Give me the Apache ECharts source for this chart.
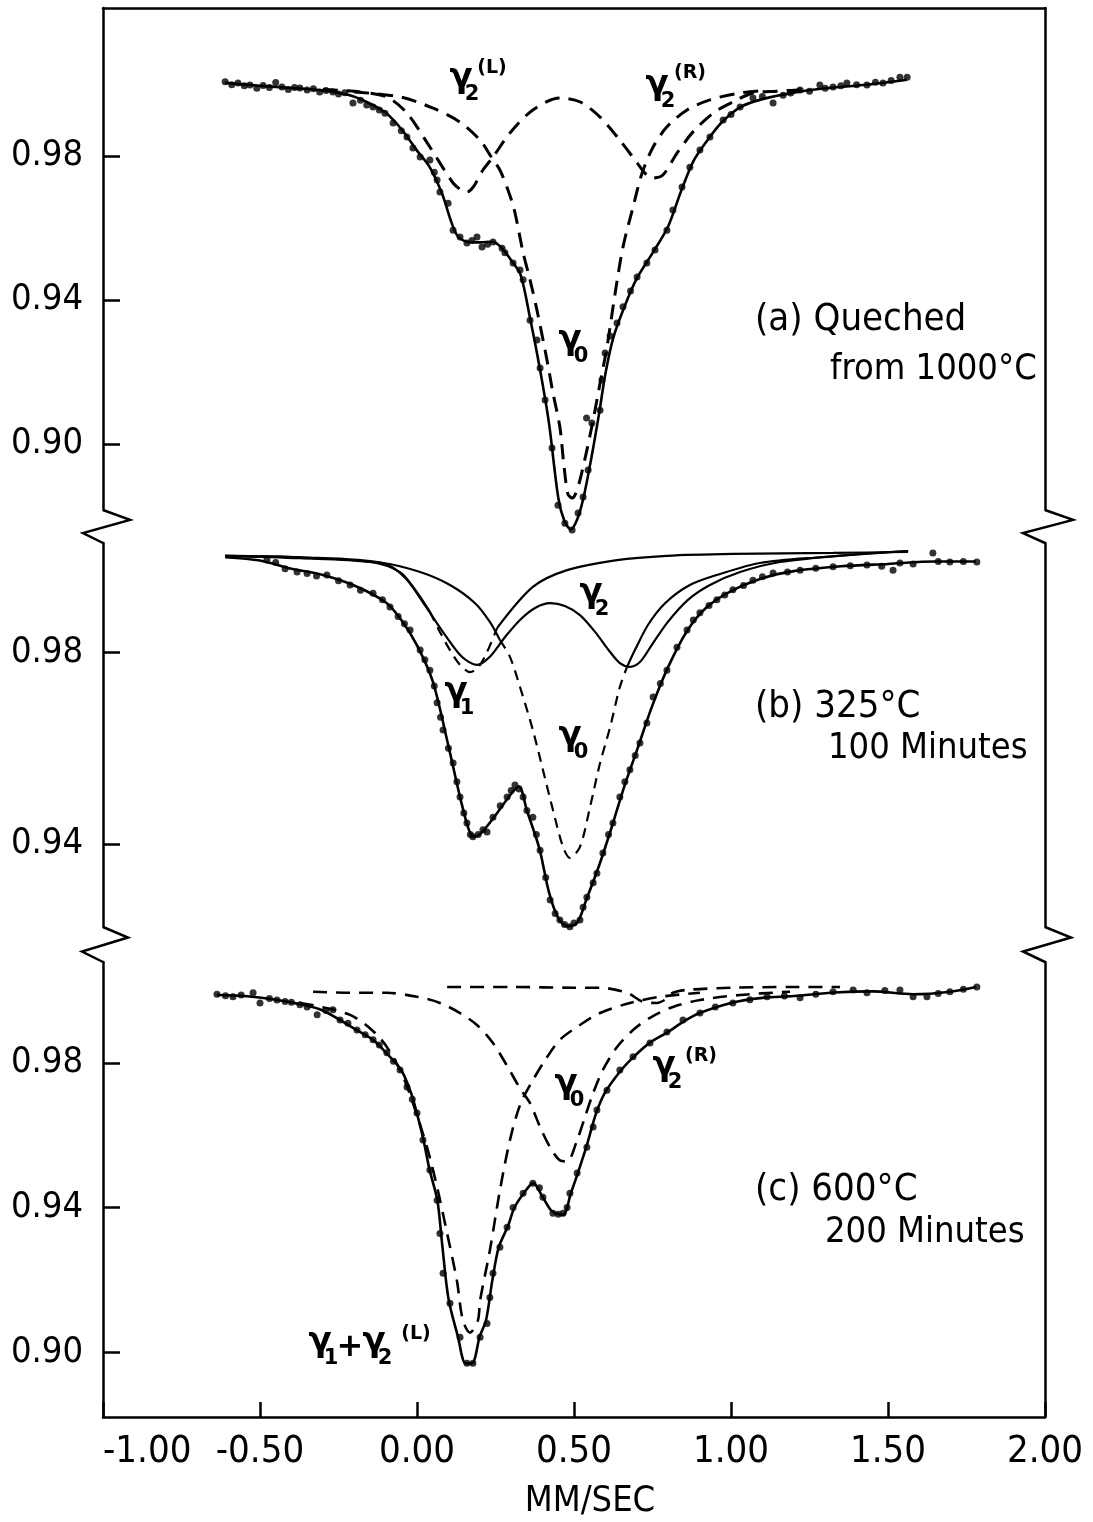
<!DOCTYPE html>
<html><head><meta charset="utf-8">
<script src="https://cdn.jsdelivr.net/npm/echarts@6/dist/echarts.min.js"></script>
<style>html,body{margin:0;padding:0;background:#fff}#c{width:1093px;height:1522px}</style>
</head><body><div id="c"></div>
<script>
// ---------- tick values ----------
const xTicks = [-1.0, -0.5, 0, 0.5, 1.0, 1.5, 2.0];
const yTicksA = [0.90, 0.94, 0.98];
const yTicksB = [0.94, 0.98];
const yTicksC = [0.90, 0.94, 0.98];

// ---------- panel (a) quenched from 1000 C ----------
const aDots = [[-0.611,1.0006],[-0.59,0.9998],[-0.57,1.0003],[-0.55,0.9995],[-0.532,0.9997],[-0.51,0.9988],[-0.49,0.9996],[-0.47,0.9990],[-0.45,1.0004],[-0.43,0.9992],[-0.41,0.9985],[-0.39,0.9990],[-0.373,0.9989],[-0.35,0.9983],[-0.33,0.9987],[-0.31,0.9978],[-0.29,0.9982],[-0.268,0.9978],[-0.25,0.9972],[-0.23,0.9976],[-0.204,0.9947],[-0.18,0.9955],[-0.16,0.9942],[-0.14,0.9936],[-0.12,0.9928],[-0.102,0.9919],[-0.076,0.9892],[-0.05,0.9870],[-0.032,0.9853],[-0.013,0.9822],[0.010,0.9797],[0.041,0.9789],[0.055,0.9755],[0.064,0.9733],[0.073,0.9700],[0.099,0.9669],[0.115,0.9594],[0.137,0.9575],[0.159,0.9558],[0.175,0.9565],[0.191,0.9575],[0.207,0.9547],[0.225,0.9555],[0.242,0.9561],[0.271,0.9544],[0.280,0.9531],[0.306,0.9503],[0.328,0.9483],[0.338,0.9456],[0.360,0.9344],[0.382,0.9289],[0.392,0.9211],[0.408,0.9122],[0.430,0.8989],[0.449,0.8830],[0.471,0.8780],[0.494,0.8761],[0.513,0.8808],[0.529,0.8853],[0.540,0.9072],[0.545,0.8928],[0.557,0.9058],[0.583,0.9094],[0.589,0.9178],[0.599,0.9253],[0.615,0.9300],[0.637,0.9336],[0.656,0.9381],[0.680,0.9425],[0.701,0.9464],[0.732,0.9503],[0.758,0.9539],[0.796,0.9594],[0.815,0.9650],[0.844,0.9714],[0.869,0.9769],[0.901,0.9817],[0.933,0.9853],[0.975,0.9900],[1.0,0.9915],[1.029,0.9936],[1.070,0.9961],[1.10,0.9965],[1.134,0.9947],[1.166,0.9969],[1.19,0.9975],[1.220,0.9983],[1.25,0.9980],[1.283,0.9997],[1.30,0.9988],[1.325,0.9992],[1.35,0.9995],[1.369,1.0003],[1.40,0.9998],[1.433,0.9997],[1.46,1.0005],[1.484,1.0003],[1.51,1.0010],[1.538,1.0019],[1.561,1.0019]];
const aFit = [[-0.611,1.0003],[-0.5,0.9995],[-0.4,0.9989],[-0.3,0.9982],[-0.22,0.9970],[-0.16,0.9950],[-0.1,0.9920],[-0.05,0.9875],[0.0,0.9815],[0.04,0.9770],[0.08,0.9695],[0.11,0.9615],[0.13,0.9577],[0.16,0.9562],[0.20,0.9560],[0.24,0.9562],[0.27,0.9545],[0.30,0.9510],[0.33,0.9470],[0.36,0.9350],[0.39,0.9215],[0.42,0.9060],[0.45,0.8850],[0.47,0.8785],[0.49,0.8763],[0.51,0.8790],[0.53,0.8850],[0.555,0.8960],[0.58,0.9085],[0.60,0.9195],[0.625,0.9295],[0.66,0.9380],[0.70,0.9460],[0.75,0.9530],[0.80,0.9605],[0.84,0.9700],[0.88,0.9785],[0.92,0.9838],[0.97,0.9893],[1.03,0.9936],[1.1,0.9958],[1.2,0.9976],[1.3,0.9988],[1.43,0.9998],[1.56,1.0012]];
const aGamma0 = [[-0.20,0.9978],[-0.054,0.9964],[0.051,0.9933],[0.137,0.9894],[0.201,0.9844],[0.239,0.9794],[0.264,0.9761],[0.290,0.9705],[0.310,0.9650],[0.338,0.9531],[0.360,0.9456],[0.382,0.9372],[0.414,0.9233],[0.433,0.9142],[0.455,0.9047],[0.468,0.8940],[0.481,0.8860],[0.495,0.8850],[0.505,0.8862],[0.519,0.8900],[0.541,0.8983],[0.561,0.9067],[0.583,0.9169],[0.605,0.9269],[0.631,0.9419],[0.656,0.9547],[0.688,0.9658],[0.717,0.9753],[0.752,0.9825],[0.796,0.9881],[0.860,0.9928],[0.933,0.9956],[1.029,0.9975],[1.115,0.9983]];
const aGamma2 = [[-0.30,0.9985],[-0.182,0.9978],[-0.096,0.9964],[-0.032,0.9919],[0.041,0.9825],[0.115,0.9725],[0.145,0.9703],[0.159,0.9700],[0.180,0.9715],[0.210,0.9761],[0.242,0.9797],[0.296,0.9864],[0.369,0.9928],[0.455,0.9961],[0.520,0.9950],[0.583,0.9908],[0.646,0.9844],[0.701,0.9781],[0.732,0.9747],[0.752,0.9739],[0.783,0.9747],[0.828,0.9808],[0.879,0.9867],[0.943,0.9919],[1.006,0.9950],[1.070,0.9975],[1.146,0.9980],[1.25,0.9985]];

// ---------- panel (b) 325 C, 100 minutes ----------
const bDots = [[-0.478,0.9993],[-0.45,0.9988],[-0.42,0.9975],[-0.382,0.9968],[-0.35,0.9965],[-0.32,0.9960],[-0.287,0.9962],[-0.25,0.9950],[-0.213,0.9941],[-0.18,0.9930],[-0.14,0.9924],[-0.11,0.9910],[-0.086,0.9895],[-0.06,0.9875],[-0.04,0.9860],[-0.022,0.9847],[0.010,0.9805],[0.025,0.9785],[0.041,0.9763],[0.055,0.9730],[0.064,0.9695],[0.075,0.9665],[0.083,0.9638],[0.10,0.9600],[0.115,0.9569],[0.127,0.9530],[0.137,0.9498],[0.149,0.9465],[0.159,0.9444],[0.170,0.9420],[0.178,0.9415],[0.195,0.9420],[0.210,0.9430],[0.223,0.9425],[0.242,0.9456],[0.265,0.9480],[0.287,0.9498],[0.300,0.9512],[0.312,0.9523],[0.325,0.9515],[0.338,0.9498],[0.350,0.9470],[0.369,0.9456],[0.380,0.9420],[0.392,0.9387],[0.41,0.9330],[0.424,0.9283],[0.44,0.9255],[0.455,0.9241],[0.470,0.9232],[0.487,0.9227],[0.500,0.9235],[0.519,0.9241],[0.529,0.9268],[0.541,0.9289],[0.561,0.9319],[0.573,0.9339],[0.592,0.9381],[0.610,0.9420],[0.624,0.9444],[0.646,0.9498],[0.662,0.9530],[0.678,0.9555],[0.695,0.9585],[0.710,0.9611],[0.732,0.9653],[0.752,0.9707],[0.775,0.9735],[0.796,0.9763],[0.828,0.9811],[0.860,0.9847],[0.880,0.9868],[0.901,0.9883],[0.93,0.9898],[0.955,0.9910],[0.98,0.9920],[1.006,0.9931],[1.04,0.9940],[1.070,0.9951],[1.10,0.9958],[1.134,0.9966],[1.18,0.9968],[1.220,0.9972],[1.27,0.9976],[1.325,0.9979],[1.38,0.9981],[1.433,0.9983],[1.48,0.9980],[1.516,0.9972],[1.538,0.9987],[1.58,0.9985],[1.643,1.0008],[1.66,0.9990],[1.697,0.9989],[1.74,0.9990],[1.783,0.9989]];
const bFit = [[-0.611,0.9999],[-0.5,0.9992],[-0.4,0.9975],[-0.3,0.9962],[-0.2,0.9940],[-0.1,0.9905],[-0.05,0.9868],[0.0,0.9815],[0.05,0.9740],[0.1,0.9605],[0.14,0.9490],[0.165,0.9430],[0.18,0.9415],[0.2,0.9420],[0.25,0.9460],[0.3,0.9505],[0.325,0.9520],[0.35,0.9470],[0.39,0.9390],[0.42,0.9300],[0.45,0.9245],[0.48,0.9228],[0.51,0.9235],[0.54,0.9285],[0.58,0.9355],[0.62,0.9435],[0.66,0.9520],[0.70,0.9595],[0.75,0.9690],[0.80,0.9770],[0.86,0.9845],[0.92,0.9893],[1.0,0.9928],[1.1,0.9955],[1.2,0.9970],[1.35,0.9980],[1.5,0.9985],[1.65,0.9990],[1.78,0.9990]];
const bGamma0Left = [[-0.611,1.0002],[-0.373,0.9999],[-0.108,0.9987],[0.010,0.9968],[0.105,0.9941],[0.185,0.9903],[0.232,0.9864],[0.264,0.9826]];
const bGamma0Dip = [[0.264,0.9826],[0.296,0.9791],[0.328,0.9728],[0.369,0.9638],[0.401,0.9555],[0.433,0.9471],[0.465,0.9394],[0.487,0.9371],[0.519,0.9394],[0.551,0.9477],[0.583,0.9569],[0.615,0.9644],[0.646,0.9728],[0.669,0.9770]];
const bGamma0Right = [[0.669,0.9770],[0.694,0.9805],[0.736,0.9858],[0.790,0.9903],[0.869,0.9941],[0.965,0.9964],[1.092,0.9987],[1.283,0.9999],[1.564,1.0012]];
const bGamma1Left = [[-0.611,1.0002],[-0.373,0.9997],[-0.150,0.9989],[-0.054,0.9968],[-0.006,0.9931],[0.041,0.9885]];
const bGamma1Dip = [[0.041,0.9885],[0.073,0.9843],[0.105,0.9805],[0.137,0.9774],[0.169,0.9759],[0.194,0.9768],[0.223,0.9801],[0.255,0.9851]];
const bGamma1Right = [[0.255,0.9851],[0.369,0.9937],[0.478,0.9972],[0.637,0.9993],[0.796,1.0002],[1.006,1.0006],[1.325,1.0008],[1.564,1.0010]];
const bGamma2 = [[-0.611,1.0002],[-0.373,0.9999],[-0.108,0.9987],[-0.038,0.9956],[0.025,0.9899],[0.089,0.9837],[0.143,0.9791],[0.191,0.9774],[0.232,0.9791],[0.280,0.9832],[0.328,0.9868],[0.376,0.9893],[0.424,0.9903],[0.471,0.9897],[0.519,0.9878],[0.567,0.9843],[0.615,0.9801],[0.646,0.9778],[0.678,0.9770],[0.710,0.9780],[0.748,0.9816],[0.799,0.9864],[0.863,0.9910],[0.933,0.9941],[1.029,0.9968],[1.156,0.9989],[1.379,1.0004],[1.564,1.0012]];

// ---------- panel (c) 600 C, 200 minutes ----------
const cDots = [[-0.637,0.9990],[-0.61,0.9986],[-0.586,0.9983],[-0.56,0.9988],[-0.522,0.9994],[-0.50,0.9966],[-0.47,0.9978],[-0.446,0.9974],[-0.42,0.9970],[-0.40,0.9968],[-0.373,0.9961],[-0.35,0.9955],[-0.318,0.9933],[-0.29,0.9945],[-0.268,0.9947],[-0.245,0.9919],[-0.22,0.9910],[-0.191,0.9891],[-0.165,0.9878],[-0.140,0.9864],[-0.12,0.9850],[-0.096,0.9828],[-0.075,0.9805],[-0.054,0.9781],[-0.032,0.9734],[-0.015,0.9700],[0.000,0.9662],[0.019,0.9587],[0.041,0.9504],[0.064,0.9421],[0.073,0.9329],[0.083,0.9219],[0.105,0.9136],[0.137,0.9042],[0.159,0.8970],[0.178,0.8970],[0.201,0.9042],[0.223,0.9080],[0.232,0.9152],[0.242,0.9219],[0.264,0.9291],[0.287,0.9346],[0.306,0.9401],[0.338,0.9440],[0.369,0.9468],[0.39,0.9455],[0.401,0.9429],[0.433,0.9385],[0.45,0.9382],[0.465,0.9385],[0.478,0.9401],[0.487,0.9440],[0.510,0.9496],[0.541,0.9567],[0.561,0.9623],[0.573,0.9670],[0.605,0.9725],[0.646,0.9781],[0.688,0.9817],[0.742,0.9855],[0.796,0.9886],[0.847,0.9919],[0.901,0.9938],[0.95,0.9955],[1.006,0.9966],[1.06,0.9975],[1.115,0.9983],[1.17,0.9985],[1.220,0.9980],[1.27,0.9990],[1.325,0.9997],[1.389,1.0002],[1.433,0.9994],[1.49,1.0000],[1.538,1.0002],[1.580,0.9983],[1.624,0.9983],[1.66,0.9992],[1.697,0.9997],[1.74,1.0004],[1.783,1.0010]];
const cFit = [[-0.637,0.9988],[-0.55,0.9985],[-0.45,0.9975],[-0.37,0.9962],[-0.3,0.9945],[-0.2,0.9895],[-0.14,0.9864],[-0.1,0.9830],[-0.05,0.9780],[-0.02,0.9720],[0.0,0.9660],[0.02,0.9590],[0.04,0.9505],[0.065,0.9420],[0.08,0.9300],[0.10,0.9150],[0.13,0.9045],[0.155,0.8970],[0.175,0.8970],[0.20,0.9045],[0.22,0.9090],[0.24,0.9200],[0.26,0.9290],[0.29,0.9350],[0.31,0.9400],[0.34,0.9440],[0.37,0.9468],[0.40,0.9430],[0.43,0.9390],[0.465,0.9380],[0.49,0.9440],[0.51,0.9490],[0.54,0.9570],[0.57,0.9660],[0.6,0.9720],[0.65,0.9780],[0.69,0.9817],[0.74,0.9855],[0.80,0.9886],[0.85,0.9915],[0.9,0.9938],[1.0,0.9966],[1.1,0.9980],[1.2,0.9985],[1.33,0.9995],[1.45,0.9998],[1.58,0.9990],[1.7,0.9997],[1.78,1.0010]];
const cGamma0 = [[-0.331,0.9997],[-0.213,0.9994],[-0.096,0.9994],[0.0,0.9983],[0.073,0.9966],[0.137,0.9938],[0.191,0.9905],[0.242,0.9855],[0.287,0.9792],[0.328,0.9730],[0.360,0.9689],[0.392,0.9623],[0.424,0.9567],[0.455,0.9531],[0.478,0.9528],[0.510,0.9587],[0.535,0.9651],[0.561,0.9717],[0.592,0.9781],[0.637,0.9844],[0.688,0.9891],[0.742,0.9925],[0.815,0.9955],[0.901,0.9974],[1.029,0.9988],[1.188,0.9997]];
const cGamma1Gamma2L = [[-0.373,0.9966],[-0.213,0.9933],[-0.118,0.9869],[-0.054,0.9781],[-0.013,0.9689],[0.032,0.9567],[0.064,0.9457],[0.096,0.9329],[0.127,0.9199],[0.146,0.9089],[0.169,0.9055],[0.194,0.9089],[0.201,0.9144],[0.232,0.9282],[0.264,0.9448],[0.296,0.9587],[0.328,0.9684],[0.360,0.9739],[0.408,0.9808],[0.455,0.9864],[0.519,0.9905],[0.583,0.9938],[0.678,0.9966],[0.774,0.9983],[0.901,0.9994]];
const cGamma2R = [[0.096,1.0010],[0.30,1.0010],[0.50,1.0008],[0.583,1.0008],[0.669,0.9994],[0.720,0.9969],[0.764,0.9966],[0.790,0.9975],[0.815,0.9994],[0.860,1.0002],[1.00,1.0008],[1.20,1.0010],[1.347,1.0010]];

// ---------- layout ----------
const FONT = "'DejaVu Sans Condensed','DejaVu Sans',sans-serif";
const GFONT = "'DejaVu Sans',sans-serif";
const INK = '#000';
const L = 103, R = 1045, A_TOP = 8, A_BOT = 510, B_TOP = 543, B_BOT = 927, C_TOP = 962, C_BOT = 1417;
const ranges = [[0.881667, 1.021111], [0.922663, 1.002872], [0.882176, 1.007910]];
const grids = [[A_TOP, A_BOT], [B_TOP, B_BOT], [C_TOP, C_BOT]].map(([t, b]) => ({left: L, right: 1093 - R, top: t, height: b - t}));

const axisLine = {show: true, onZero: false, lineStyle: {color: INK, width: 2.5}};
function yLeft(g, ticks) {
  return {type: 'value', gridIndex: g, position: 'left', min: ranges[g][0], max: ranges[g][1],
    axisLine, splitLine: {show: false},
    axisTick: {show: true, inside: true, length: 17, customValues: ticks, lineStyle: {color: INK, width: 2.5}},
    axisLabel: {show: true, customValues: ticks, formatter: v => v.toFixed(2), fontFamily: FONT, fontSize: 36, color: INK, margin: 20}};
}
function yRight(g) {
  return {type: 'value', gridIndex: g, position: 'right', min: ranges[g][0], max: ranges[g][1],
    axisLine, splitLine: {show: false}, axisTick: {show: false}, axisLabel: {show: false}};
}
function dots(data, g) {
  return {type: 'scatter', xAxisIndex: g, yAxisIndex: g * 2, data, symbol: 'circle', symbolSize: 7,
    itemStyle: {color: INK}, clip: false, silent: true, z: 4};
}
function curve(data, g, type, w, sm) {
  return {type: 'line', xAxisIndex: g, yAxisIndex: g * 2, data, showSymbol: false, symbol: 'none',
    smooth: sm === undefined ? 0.3 : sm, lineStyle: {color: INK, width: w, type: type || 'solid'},
    clip: false, silent: true, z: 3};
}
const dashA = [15, 9], dashB = [10, 7], dashC = [14, 9];

function txt(x, y, s, size, align, fam, weight) {
  return {type: 'text', x, y, silent: true,
    style: {text: s, fontSize: size, fontFamily: fam || FONT, fontWeight: weight || 'normal', fill: INK, align: align || 'left', verticalAlign: 'middle'}};
}
function greek(x, y, sub, sup, sx, sy) {
  const out = [txt(x, y, 'γ', 34, 'center', GFONT, 'bold'), txt(x + 11, y + 17, sub, 21, 'center', GFONT, 'bold')];
  if (sup) out.push(txt(x + (sx || 33), y + (sy || -12), sup, 19, 'center', GFONT, 'bold'));
  return out;
}
function zig(x, y0, y1, dxOut, dxIn) {
  const h = y1 - y0;
  return {type: 'polyline', silent: true,
    shape: {points: [[x, y0], [x + dxOut, y0 + h * 0.3], [x - dxIn, y0 + h * 0.7], [x, y1]]},
    style: {stroke: INK, lineWidth: 2.5, fill: null}};
}

const chart = echarts.init(document.getElementById('c'), null, {renderer: 'canvas'});
chart.setOption({
  animation: false,
  backgroundColor: '#fff',
  grid: grids,
  xAxis: [
    {type: 'value', gridIndex: 0, min: -1, max: 2, position: 'top', axisLine, axisTick: {show: false}, axisLabel: {show: false}, splitLine: {show: false}},
    {type: 'value', gridIndex: 1, min: -1, max: 2, show: false},
    {type: 'value', gridIndex: 2, min: -1, max: 2, interval: 0.5, position: 'bottom', axisLine, splitLine: {show: false},
      axisTick: {show: true, inside: true, length: 15, customValues: xTicks, lineStyle: {color: INK, width: 2.5}},
      axisLabel: {customValues: xTicks, formatter: v => v.toFixed(2), fontFamily: FONT, fontSize: 38, color: INK, margin: 16,
        showMinLabel: true, showMaxLabel: true, alignMinLabel: 'left'}}
  ],
  yAxis: [yLeft(0, yTicksA), yRight(0), yLeft(1, yTicksB), yRight(1), yLeft(2, yTicksC), yRight(2)],
  series: [
    dots(aDots, 0), curve(aFit, 0, 'solid', 2.6),
    curve(aGamma0, 0, dashA, 3), curve(aGamma2, 0, dashA, 3),
    dots(bDots, 1), curve(bFit, 1, 'solid', 2.6),
    curve(bGamma0Left, 1, 'solid', 2.2), curve(bGamma0Dip, 1, dashB, 2.2), curve(bGamma0Right, 1, 'solid', 2.2),
    curve(bGamma1Left, 1, 'solid', 2.2), curve(bGamma1Dip, 1, dashB, 2.2), curve(bGamma1Right, 1, 'solid', 2.2),
    curve(bGamma2, 1, 'solid', 2.2),
    dots(cDots, 2), curve(cFit, 2, 'solid', 2.6),
    curve(cGamma0, 2, dashC, 2.6), curve(cGamma1Gamma2L, 2, dashC, 2.6), curve(cGamma2R, 2, dashC, 2.6)
  ],
  graphic: [
    zig(L, A_BOT, B_TOP, 27, 20), zig(L, B_BOT, C_TOP, 25, 21),
    zig(R, A_BOT, B_TOP, 28, 22), zig(R, B_BOT, C_TOP, 26, 22),
    txt(590, 1502, 'MM/SEC', 36, 'center'),
    txt(755, 320, '(a) Queched', 38), txt(830, 370, 'from 1000°C', 36),
    txt(755, 707, '(b) 325°C', 38), txt(828, 749, '100 Minutes', 36),
    txt(755, 1190, '(c) 600°C', 38), txt(825, 1233, '200 Minutes', 36),
    // panel a labels
    ...greek(461, 78, '2', '(L)', 31, -10),
    ...greek(657, 85, '2', '(R)', 33, -12),
    ...greek(570, 340, '0'),
    // panel b labels
    ...greek(591, 593, '2'),
    ...greek(456, 692, '1'),
    ...greek(570, 736, '0'),
    // panel c labels
    ...greek(566, 1084, '0'),
    ...greek(664, 1066, '2', '(R)', 37, -10),
    ...greek(320, 1342, '1'),
    txt(350, 1348, '+', 32, 'center', GFONT, 'bold'),
    ...greek(374, 1342, '2', '(L)', 42, -8)
  ]
});
</script>
</body></html>
